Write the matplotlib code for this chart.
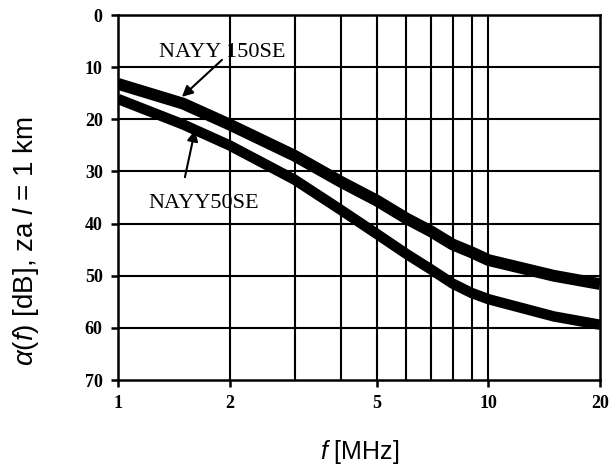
import matplotlib
matplotlib.use("Agg")
import matplotlib.pyplot as plt
from matplotlib.ticker import FixedLocator, NullFormatter

plt.rcParams["mathtext.fontset"] = "custom"
plt.rcParams["mathtext.it"] = "Liberation Sans:italic"
plt.rcParams["mathtext.rm"] = "Liberation Sans"
plt.rcParams["mathtext.sf"] = "Liberation Sans"

freq = [1, 1.5, 2, 3, 4, 5, 6, 7, 8, 9, 10, 15, 20]
nayy150 = [13.2, 17, 21, 27, 32, 35.6, 39, 41.5, 44, 45.5, 47, 50, 51.6]
nayy50 = [16.1, 21, 25, 31.6, 37.4, 42, 45.8, 48.8, 51.5, 53.3, 54.5, 57.8, 59.4]

x_major = [1, 2, 5, 10, 20]
x_major_labels = ["1", "2", "5", "10", "20"]
x_minor = [3, 4, 6, 7, 8, 9]
y_ticks = [0, 10, 20, 30, 40, 50, 60, 70]

fig = plt.figure(figsize=(6.10, 4.66), dpi=100)
ax = fig.add_axes([0.1934, 0.1845, 0.7902, 0.7833])

ax.set_xscale("log")
ax.set_xlim(1, 20)
ax.set_ylim(70, 0)

ax.xaxis.set_major_locator(FixedLocator(x_major))
ax.set_xticklabels(x_major_labels)
ax.xaxis.set_minor_locator(FixedLocator(x_minor))
ax.xaxis.set_minor_formatter(NullFormatter())
ax.set_yticks(y_ticks)

# grid
for v in x_major[1:-1] + x_minor:
    ax.axvline(v, color="black", lw=1.5, zorder=1)
for v in y_ticks[1:-1]:
    ax.axhline(v, color="black", lw=1.5, zorder=1)

ax.plot(freq, nayy150, color="black", lw=8.5, solid_capstyle="butt",
        solid_joinstyle="round", zorder=3)
ax.plot(freq, nayy50, color="black", lw=7.5, solid_capstyle="butt",
        solid_joinstyle="round", zorder=3)

for s in ax.spines.values():
    s.set_linewidth(1.8)

ax.tick_params(axis="both", which="major", direction="out", length=5,
               width=1.8, pad=6)
ax.tick_params(axis="x", which="minor", length=0)
serif = ["Liberation Serif", "DejaVu Serif"]
for lab in ax.get_xticklabels() + ax.get_yticklabels():
    lab.set_fontfamily(serif)
    lab.set_fontsize(13)
    lab.set_fontweight("bold")

arrow_kw = dict(arrowstyle="-|>", color="black", lw=1.5,
                mutation_scale=16, shrinkA=0, shrinkB=0)
ax.text(1.91, 7.1, "NAYY 150SE", fontsize=16, fontfamily=serif,
        ha="center", va="center")
ax.annotate("", xy=(1.488, 15.7), xytext=(1.909, 8.6), arrowprops=arrow_kw)
ax.text(1.70, 36.2, "NAYY50SE", fontsize=16, fontfamily=serif,
        ha="center", va="center")
ax.annotate("", xy=(1.614, 22.1), xytext=(1.516, 31.1), arrowprops=arrow_kw)

sans = ["Liberation Sans", "DejaVu Sans"]
ax.set_ylabel(r"$\alpha(f)$ [dB], za $l$ = 1 km", fontsize=20,
              fontfamily=sans)
ax.yaxis.set_label_coords(-0.160, 0.381)
ax.set_xlabel(r"$f$ [MHz]", fontsize=18, fontfamily=sans)
ax.xaxis.set_label_coords(0.502, -0.158)

fig.savefig("out.png", dpi=100)
